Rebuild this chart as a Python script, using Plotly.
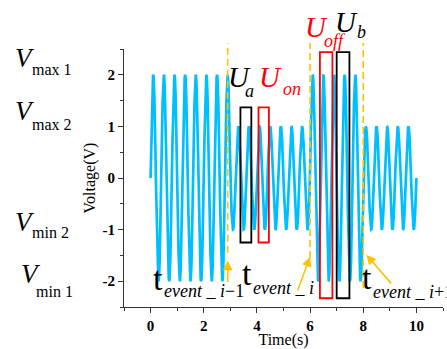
import numpy as np
import plotly.graph_objects as go

# ---------------- data ----------------
segment_edges = [0, 3, 6, 8, 10]          # time (s) where amplitude changes
segment_amplitudes = [2, 1, 2, 1]         # V
signal_frequency = 2.5                    # Hz
event_times = [2.9, 6.0, 8.0]             # dashed event markers (s)

box_a_time = [3.38, 3.79]
box_on_time = [4.06, 4.45]
box_small_v = [-1.25, 1.37]
box_off_time = [6.37, 6.84]
box_b_time = [7.0, 7.48]
box_large_v = [-2.33, 2.44]

x_ticks = [0, 2, 4, 6, 8, 10]
y_ticks = [-2, -1, 0, 1, 2]

# ---------------- signal ----------------
t = np.linspace(segment_edges[0], segment_edges[-1], 4001)
amp = np.zeros_like(t)
for a, lo, hi in zip(segment_amplitudes, segment_edges[:-1], segment_edges[1:]):
    amp[(t >= lo) & (t <= hi)] = a
v = amp * np.sin(2 * np.pi * signal_frequency * t)

W, H = 447, 349
ML, MR, MT, MB = 124, 4, 49, 42
PW, PH = W - ML - MR, H - MT - MB

BLUE = "#00BFFF"
ORANGE = "#FFC000"
SERIF = "Liberation Serif"

fig = go.Figure()
fig.add_trace(go.Scatter(x=t, y=v, mode="lines",
                         line=dict(color=BLUE, width=2.7), showlegend=False))

shapes = []
# dashed event lines (vertical extent in paper units)
dash_extent = [(1.023, 0.21), (1.023, 0.19), (1.023, 0.074)]
for et, (ytop, ybot) in zip(event_times, dash_extent):
    shapes.append(dict(type="line", xref="x", yref="paper", x0=et, x1=et,
                       y0=ybot, y1=ytop,
                       line=dict(color=ORANGE, width=1.6, dash="7px,4px"),
                       layer="above"))

def box(tr, vr, color):
    return dict(type="rect", xref="x", yref="y", x0=tr[0], x1=tr[1],
                y0=vr[0], y1=vr[1], line=dict(color=color, width=1.8),
                fillcolor="rgba(0,0,0,0)", layer="above")

shapes += [box(box_a_time, box_small_v, "black"),
           box(box_on_time, box_small_v, "red"),
           box(box_off_time, box_large_v, "red"),
           box(box_b_time, box_large_v, "black")]

def px2paper(px, py):
    return (px - ML) / PW, (H - MB - py) / PH

ann = []
def txt(px, py, text, size, color="black"):
    x, y = px2paper(px, py)
    ann.append(dict(xref="paper", yref="paper", x=x, y=y, text=text,
                    xanchor="left", yanchor="middle", showarrow=False,
                    font=dict(family=SERIF, size=size, color=color)))

# V labels (left side)
for (vx, vy, sx, sy, sub) in [(13, 58, 30, 69, "max 1"),
                              (13, 111, 30, 125, "max 2"),
                              (13, 222, 30, 233, "min 2"),
                              (19, 274, 34, 291, "min 1")]:
    txt(vx, vy, "<i>V</i>", 27)
    txt(sx, sy, sub, 16)

# U labels
txt(226, 77, "<i>U</i>", 29)
txt(243, 91, "<i>a</i>", 18)
txt(257, 77, "<i>U</i>", 29, "red")
txt(281, 89, "<i>on</i>", 18, "red")
txt(303, 27, "<i>U</i>", 29, "red")
txt(322, 41, "<i>off</i>", 18, "red")
txt(333, 22, "<i>U</i>", 29)
txt(355, 32, "<i>b</i>", 18)

# t labels
txt(151, 278, "t", 34)
txt(162, 291, "<i>event _ i</i>\u22121", 18)
txt(240, 273, "t", 34)
txt(251, 288, "<i>event _ i</i>", 18)
txt(360, 277, "t", 34)
txt(371, 292, "<i>event _ i</i>+1", 18)

# arrows (head in data coords, tail offset in pixels)
for (xh, yh, axp, ayp) in [(event_times[0], -1.6, 0, 23),
                           (event_times[1], -1.53, -13, 35),
                           (8.12, -1.49, 26, 30)]:
    ann.append(dict(xref="x", yref="y", x=xh, y=yh, ax=axp, ay=ayp, text="",
                    showarrow=True, arrowhead=2, arrowsize=1.2, arrowwidth=1.6,
                    arrowcolor=ORANGE))

axis_common = dict(showline=True, linecolor="#333", linewidth=1, ticks="outside",
                   ticklen=5, tickwidth=1, tickcolor="#333", showgrid=False,
                   zeroline=False, mirror=False,
                   tickfont=dict(family=SERIF, size=15, color="black", weight="bold"))

fig.update_layout(
    width=W, height=H,
    margin=dict(l=ML, r=MR, t=MT, b=MB, autoexpand=False),
    plot_bgcolor="white", paper_bgcolor="white",
    shapes=shapes, annotations=ann,
    xaxis=dict(range=[-1, 11], tickvals=x_ticks, ticktext=[str(x) for x in x_ticks],
               minor=dict(dtick=1, tick0=0, ticks="outside", ticklen=3, tickcolor="#333"),
               title=dict(text="Time(s)", font=dict(family=SERIF, size=16, color="black"),
                          standoff=0),
               **axis_common),
    yaxis=dict(range=[-2.5, 2.5], tickvals=y_ticks, ticktext=[str(y) for y in y_ticks],
               minor=dict(dtick=0.5, tick0=0, ticks="outside", ticklen=3, tickcolor="#333"),
               title=dict(text="Voltage(V)", font=dict(family=SERIF, size=16, color="black"),
                          standoff=2),
               **axis_common),
)

fig.write_html("out.html", config={"displayModeBar": False},
               post_script="document.body.style.margin='0';document.body.style.overflow='hidden';")
